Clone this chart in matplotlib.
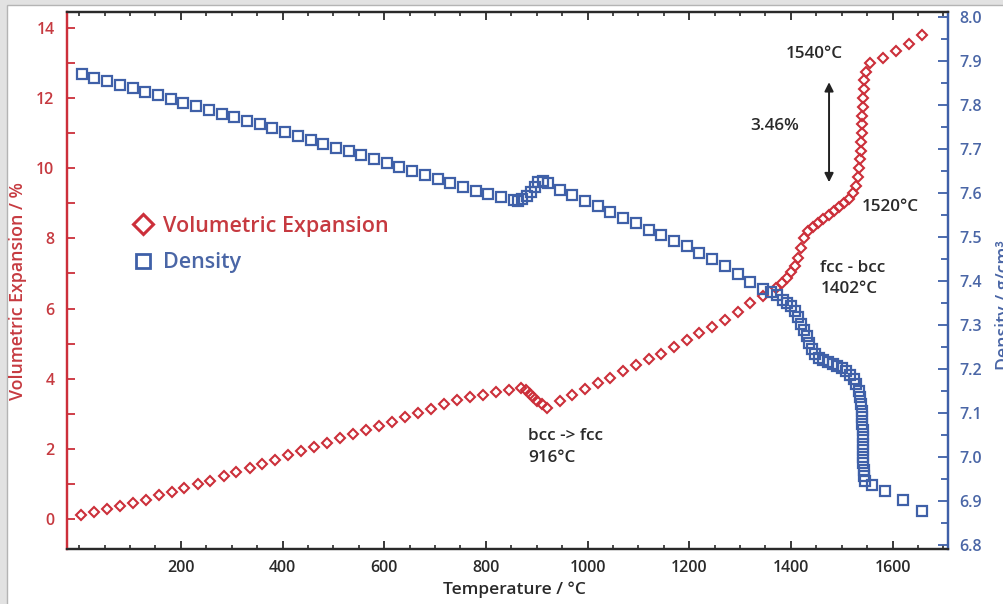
import matplotlib
matplotlib.use("Agg")
import matplotlib.pyplot as plt
from matplotlib.lines import Line2D
from matplotlib.patches import Rectangle
from matplotlib.ticker import MultipleLocator, FixedLocator

plt.rcParams['font.family'] = ['Open Sans', 'DejaVu Sans']

# ---------------- data ----------------
exp_T = [3, 29, 54, 80, 105, 131, 156, 182, 207, 233, 258, 284, 309, 335, 360,
         386, 411, 437, 462, 488, 513, 539, 564, 590, 615, 641, 666, 692, 717,
         743, 768, 794, 819, 845, 870,
         878, 887, 893, 901, 910, 920,
         945, 970, 995, 1020, 1045, 1070, 1095, 1120, 1145, 1170, 1195, 1220,
         1245, 1270, 1295, 1320, 1345, 1370,
         1383, 1392, 1400, 1408, 1414, 1420, 1426, 1434, 1444, 1454, 1464,
         1474, 1484, 1494, 1504, 1514, 1522, 1528,
         1531, 1533, 1535, 1537, 1538, 1539, 1540, 1540, 1541, 1542, 1543,
         1544, 1547, 1556,
         1581, 1607, 1632, 1658]
exp_V = [0.13, 0.20, 0.28, 0.37, 0.47, 0.56, 0.69, 0.78, 0.88, 0.99, 1.10, 1.22,
         1.34, 1.46, 1.58, 1.70, 1.82, 1.94, 2.06, 2.18, 2.30, 2.42, 2.54, 2.66,
         2.78, 2.90, 3.02, 3.14, 3.27, 3.39, 3.48, 3.55, 3.61, 3.68, 3.74,
         3.68, 3.56, 3.47, 3.37, 3.28, 3.16,
         3.37, 3.54, 3.71, 3.87, 4.03, 4.22, 4.39, 4.56, 4.72, 4.91, 5.10, 5.29,
         5.48, 5.67, 5.91, 6.15, 6.36, 6.59,
         6.74, 6.88, 7.03, 7.22, 7.45, 7.72, 8.00, 8.20, 8.33, 8.45, 8.56,
         8.66, 8.77, 8.88, 9.00, 9.12, 9.28, 9.50,
         9.75, 10.00, 10.25, 10.50, 10.75, 11.00, 11.25, 11.50, 11.75, 12.00,
         12.25, 12.50, 12.75, 13.00,
         13.15, 13.35, 13.55, 13.80]

den_T = [5, 30, 55, 80, 105, 130, 155, 180, 205, 230, 255, 280, 305, 330, 355,
         380, 405, 430, 455, 480, 505, 530, 555, 580, 605, 630, 655, 680, 705,
         730, 755, 780, 805, 830, 855,
         864, 872, 881, 889, 896, 903, 912, 922,
         945, 970, 995, 1020, 1045, 1070, 1095, 1120, 1145, 1170, 1195, 1220,
         1245, 1270, 1295, 1320, 1345,
         1360, 1373, 1384, 1393, 1400, 1408, 1414, 1420, 1426, 1431, 1436,
         1441, 1447, 1455, 1464, 1473, 1482, 1491, 1500, 1509, 1517, 1524, 1529,
         1533, 1536, 1538, 1539, 1540, 1540, 1541, 1541, 1541, 1542, 1542,
         1542, 1543, 1544, 1546,
         1560, 1585, 1620, 1658]
den_D = [7.871, 7.862, 7.856, 7.847, 7.840, 7.831, 7.824, 7.815, 7.806, 7.799,
         7.790, 7.781, 7.774, 7.765, 7.756, 7.747, 7.738, 7.729, 7.720, 7.711,
         7.702, 7.695, 7.686, 7.677, 7.668, 7.659, 7.650, 7.641, 7.632, 7.623,
         7.614, 7.605, 7.598, 7.591, 7.585,
         7.583, 7.587, 7.594, 7.603, 7.614, 7.625, 7.627, 7.622,
         7.608, 7.596, 7.583, 7.570, 7.558, 7.544, 7.531, 7.516, 7.504, 7.492,
         7.479, 7.464, 7.449, 7.434, 7.415, 7.398, 7.381,
         7.375, 7.368, 7.357, 7.349, 7.343, 7.332, 7.318, 7.302, 7.289, 7.274,
         7.259, 7.245, 7.233, 7.225, 7.220, 7.215, 7.211, 7.207, 7.201, 7.194,
         7.186, 7.177, 7.165,
         7.150, 7.135, 7.120, 7.105, 7.090, 7.075, 7.060, 7.045, 7.030, 7.015,
         7.000, 6.985, 6.970, 6.955, 6.945,
         6.935, 6.922, 6.902, 6.876]

x_major = [200, 400, 600, 800, 1000, 1200, 1400, 1600]
left_ticks = [0, 2, 4, 6, 8, 10, 12, 14]
right_ticks = [6.8, 6.9, 7.0, 7.1, 7.2, 7.3, 7.4, 7.5, 7.6, 7.7, 7.8, 7.9, 8.0]

RED = '#cc2f3a'
BLUE = '#3f60a8'
RED_TXT = '#c63a40'
BLUE_TXT = '#4a66a6'
DARK = '#2a2a2a'

# ---------------- figure ----------------
fig = plt.figure(figsize=(10.04, 6.04), dpi=100, facecolor='#e2e2e2')
fig.patches.append(Rectangle((7 / 1004, -0.01), 1.0, 1 - 5 / 604 + 0.01,
                             transform=fig.transFigure, facecolor='white',
                             edgecolor='#b4b4b4', lw=1.0, zorder=-10))

ax = fig.add_axes([67 / 1004, 1 - 549 / 604, (948 - 67) / 1004, (549 - 12) / 604])
ax.set_facecolor('white')
ax2 = ax.twinx()

ax.set_xlim(-24, 1709)
ax.set_ylim(-0.85, 14.45)
ax2.set_ylim(6.79, 8.012)

l1, = ax.plot(exp_T, exp_V, ls='none', marker='D', ms=5.4, mfc='none',
              mec=RED, mew=1.5, zorder=3)
l2, = ax2.plot(den_T, den_D, ls='none', marker='s', ms=7.8, mfc='none',
               mec=BLUE, mew=1.6, zorder=3)

# spines
for a in (ax, ax2):
    a.spines['top'].set_color(DARK)
    a.spines['bottom'].set_color(DARK)
    a.spines['left'].set_color(RED)
    a.spines['right'].set_color(BLUE)
    for s in a.spines.values():
        s.set_linewidth(1.6)

# ticks
ax.xaxis.set_major_locator(FixedLocator(x_major))
ax.xaxis.set_minor_locator(MultipleLocator(50))
ax.yaxis.set_major_locator(FixedLocator(left_ticks))
ax.yaxis.set_minor_locator(MultipleLocator(1))
ax2.yaxis.set_major_locator(FixedLocator(right_ticks))
ax2.yaxis.set_minor_locator(MultipleLocator(0.05))
ax2.set_yticklabels([f'{v:.1f}' for v in right_ticks])

ax.tick_params(axis='x', which='both', direction='in', top=True, bottom=True,
               color=DARK, labelcolor=DARK, labelsize=11.5, pad=8)
ax.tick_params(axis='x', which='major', length=6, width=1.3)
ax.tick_params(axis='x', which='minor', length=3, width=1.2)
ax.tick_params(axis='y', which='both', direction='in', left=True, right=False,
               color=RED, labelcolor=RED_TXT, labelsize=11.5, pad=9)
ax.tick_params(axis='y', which='major', length=6, width=1.3)
ax.tick_params(axis='y', which='minor', length=6, width=1.3)
ax2.tick_params(axis='y', which='both', direction='in', right=True, left=False,
                color=BLUE, labelcolor=BLUE_TXT, labelsize=11.5, pad=8)
ax2.tick_params(axis='y', which='major', length=7, width=1.3)
ax2.tick_params(axis='y', which='minor', length=5, width=1.3)

for lab in ax.get_xticklabels() + ax.get_yticklabels() + ax2.get_yticklabels():
    lab.set_fontweight('semibold')

# axis labels
fig.text(514 / 1004, 1 - 590 / 604, 'Temperature / °C', ha='center', va='center',
         fontsize=12.5, fontweight='semibold', color=DARK)
fig.text(18 / 1004, 1 - 291 / 604, 'Volumetric Expansion / %', ha='center',
         va='center', rotation=90, fontsize=12.8, fontweight='semibold', color=RED_TXT)
fig.text(995 / 1004, 1 - 305 / 604, 'Density / g/cm³', ha='left', va='center',
         rotation=90, fontsize=12.8, fontweight='semibold', color=BLUE_TXT)

# annotations
tkw = dict(fontsize=12.3, fontweight='semibold', color=DARK)
ax.text(1447, 13.25, '1540°C', ha='center', va='center', **tkw)
ax.text(1369, 11.2, '3.46%', ha='center', va='center', **tkw)
ax.text(1595, 8.88, '1520°C', ha='center', va='center', **tkw)
ax.text(1458, 7.17, 'fcc - bcc', ha='left', va='center', **tkw)
ax.text(1458, 6.56, '1402°C', ha='left', va='center', **tkw)
ax.text(883, 2.36, 'bcc -> fcc', ha='left', va='center', **tkw)
ax.text(883, 1.75, '916°C', ha='left', va='center', **tkw)
ax.annotate('', xy=(1475, 12.45), xytext=(1475, 9.6),
            arrowprops=dict(arrowstyle='<|-|>', color='#222222', lw=1.4,
                            mutation_scale=13, shrinkA=0, shrinkB=0))

# legend
h1 = Line2D([], [], ls='none', marker='D', ms=10.4, mfc='none', mec=RED, mew=2.2)
h2 = Line2D([], [], ls='none', marker='s', ms=9.6, mfc='none', mec=BLUE, mew=2.0)
leg = ax.legend([h1, h2], ['Volumetric Expansion', 'Density'], loc='upper left',
                bbox_to_anchor=(124 / 1004, 1 - 207 / 604), bbox_transform=fig.transFigure,
                frameon=False, handlelength=1.0, handletextpad=0.39, labelspacing=0.72,
                prop={'size': 15.5, 'weight': 'semibold'}, labelcolor=[RED_TXT, BLUE_TXT],
                borderpad=0.4, borderaxespad=0, numpoints=1)

fig.savefig('out.png', dpi=100, facecolor=fig.get_facecolor())
